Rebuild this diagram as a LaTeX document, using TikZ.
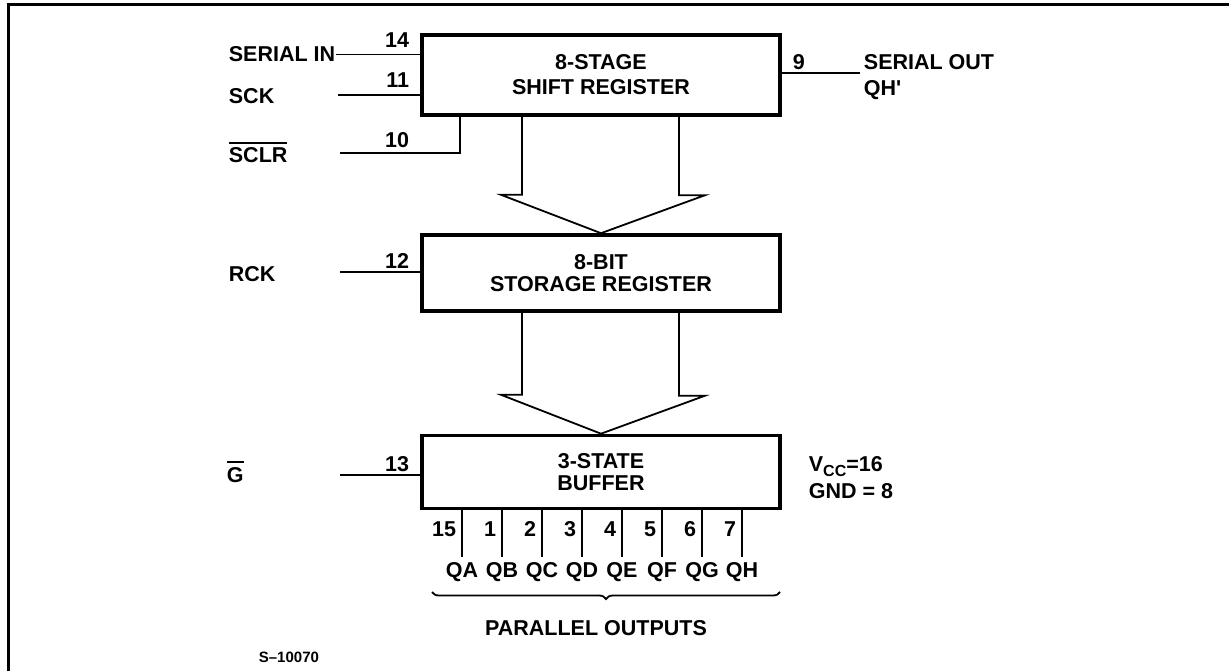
\documentclass[tikz,border=0pt]{standalone}
\usepackage{fontspec}
\setmainfont{Liberation Sans}
\usetikzlibrary{decorations.pathreplacing}
\newcommand{\olbar}[1]{\vbox{\hrule height 1.8pt\kern 4pt\hbox{#1}}}
\begin{document}
\begin{tikzpicture}[x=1pt,y=-1pt,line width=1.8pt,
  font=\fontsize{21.5}{25}\selectfont\bfseries,
  regbox/.style={draw,line width=3.6pt,minimum width=358pt,align=center,inner sep=0pt},
  pinnum/.style={anchor=east,inner sep=0pt},
  signame/.style={anchor=base west,inner sep=0pt}]
  \useasboundingbox (0,0) rectangle (1229,671);

  % 边框
  \draw[line width=3pt] (8,671) -- (8,5) -- (1229,5);

  % 三个方框
  \node[regbox,minimum height=80pt,font=\fontsize{21.5}{25}\selectfont\bfseries] (sr) at (601,75) {8-STAGE\\SHIFT REGISTER};
  \node[regbox,minimum height=76pt,font=\fontsize{21.5}{22}\selectfont\bfseries] (st) at (601,273) {8-BIT\\STORAGE REGISTER};
  \node[regbox,minimum height=73pt,font=\fontsize{21.5}{22}\selectfont\bfseries] (buf) at (601,472) {3-STATE\\BUFFER};

  % 输入信号
  \node[signame] (sin) at (228,62) {SERIAL IN};
  \node[signame] (sck) at (228,104) {SCK};
  \node[signame] (sclr) at (228,163) {\olbar{SCLR}};
  \node[signame] (rck) at (228,281) {RCK};
  \node[signame] (gbar) at (226,482) {\olbar{G}};
  \coordinate (sck0) at (338,95);
  \coordinate (sclr0) at (340,153);
  \coordinate (rck0) at (340,272);
  \coordinate (g0) at (340,475);
  \draw (sin.east) -- (sin.east -| sr.west);
  \draw (sck0) -- (sck0 -| sr.west);
  \draw (sclr0) -| ([xshift=40pt]sr.south west);
  \draw (rck0) -- (rck0 -| st.west);
  \draw (g0) -- (g0 -| buf.west);

  % 引脚号
  \node[pinnum] (p14) at (410,40) {14};
  \node[pinnum] (p11) at (410,80) {11};
  \node[pinnum] (p10) at (410,140) {10};
  \node[pinnum] (p12) at (410,261) {12};
  \node[pinnum] (p13) at (410,464) {13};

  % 串行输出
  \coordinate (sout) at (860,73);
  \draw (sout) -- (sout -| sr.east);
  \node[anchor=west,inner sep=0pt] (p9) at (792,62) {9};
  \node[signame] (serout) at (863,70) {SERIAL OUT};
  \node[signame] (qhp) at (863,96) {QH\textquotesingle};

  % 总线箭头
  \draw ([xshift=-79pt]sr.south) |- ++(-21,78) -- (st.north) -- ++(104,-38) -| ([xshift=78pt]sr.south);
  \draw ([xshift=-79pt]st.south) |- ++(-21,82) -- (buf.north) -- ++(104,-38) -| ([xshift=78pt]st.south);

  % 并行输出
  \foreach \x/\n/\q in {462/15/QA,502/1/QB,542/2/QC,582/3/QD,622/4/QE,662/5/QF,702/6/QG,742/7/QH} {
    \coordinate (o\q) at (\x,557);
    \draw (o\q) -- (o\q |- buf.south);
    \node[pinnum] (n\q) at ({\x-5},529) {\n};
    \node[inner sep=0pt] (l\q) at (\x,572) {\q};
  }
  \coordinate (brl) at (432,592);
  \coordinate (brr) at (780,592);
  \draw[decorate,decoration={brace,mirror,amplitude=7pt}] (brl) -- (brr);
  \node (par) at (596,628) {PARALLEL OUTPUTS};

  % 电源
  \node[anchor=west,inner sep=0pt] (vcc) at (808,467) {V\raisebox{-5pt}{\fontsize{16}{16}\selectfont CC}=16};
  \node[anchor=west,inner sep=0pt] (gnd) at (808,491) {GND = 8};

  \node[anchor=west,inner sep=0pt,font=\fontsize{15}{18}\selectfont\bfseries] (code) at (258,657) {S--10070};
\end{tikzpicture}
\end{document}
